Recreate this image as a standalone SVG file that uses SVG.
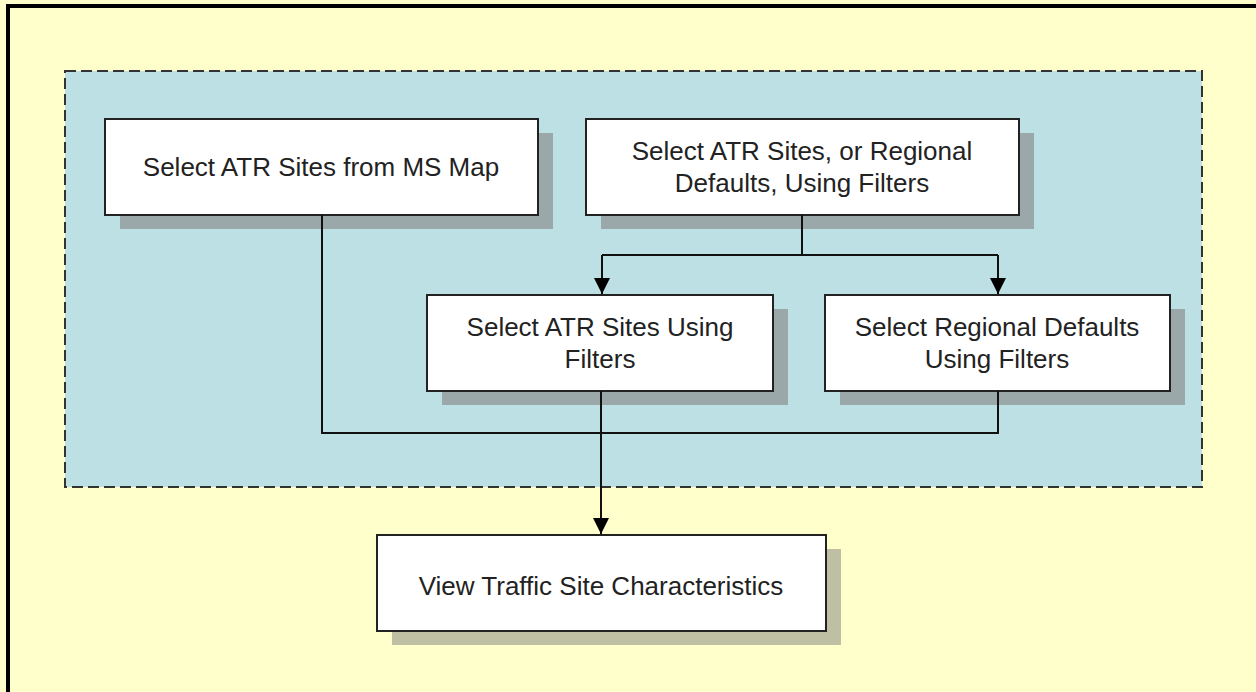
<svg xmlns="http://www.w3.org/2000/svg" width="1256" height="692" viewBox="0 0 1256 692">
<style>
.bg{fill:#ffffcc}
.frame{fill:none;stroke:#000;stroke-width:4}
.grp{fill:#bce0e3;stroke:#333;stroke-width:2;stroke-dasharray:11 5}
.box{fill:#fff;stroke:#222;stroke-width:2}
.sh-b{fill:#9ba8a9}
.sh-y{fill:#bfbfa4}
.t{font-family:"Liberation Sans",Arial,sans-serif;font-size:26px;fill:#222;text-anchor:middle}
.c{fill:none;stroke:#111;stroke-width:2}
</style>
<defs>
<marker id="arr" markerWidth="16" markerHeight="16" refX="16" refY="8" orient="auto" markerUnits="userSpaceOnUse">
<path d="M0,0 L16,8 L0,16 Z" fill="#000"/>
</marker>
</defs>
<rect class="bg" x="0" y="0" width="1256" height="692"/>
<path class="frame" d="M8,692 L8,6 L1256,6"/>
<rect class="grp" x="65" y="71" width="1137" height="416"/>
<g id="node-ms-map">
<rect class="sh-b" x="120" y="133" width="433" height="96"/>
<rect class="box" x="105" y="119" width="433" height="96"/>
<text class="t" x="321" y="176">Select ATR Sites from MS Map</text>
</g>
<g id="node-filters">
<rect class="sh-b" x="601" y="133" width="433" height="96"/>
<rect class="box" x="586" y="119" width="433" height="96"/>
<text class="t" x="802" y="160">Select ATR Sites, or Regional</text>
<text class="t" x="802" y="192">Defaults, Using Filters</text>
</g>
<g id="node-atr-filters">
<rect class="sh-b" x="442" y="309" width="346" height="96"/>
<rect class="box" x="427" y="295" width="346" height="96"/>
<text class="t" x="600" y="336">Select ATR Sites Using</text>
<text class="t" x="600" y="368">Filters</text>
</g>
<g id="node-regional">
<rect class="sh-b" x="840" y="309" width="345" height="96"/>
<rect class="box" x="825" y="295" width="345" height="96"/>
<text class="t" x="997" y="336">Select Regional Defaults</text>
<text class="t" x="997" y="368">Using Filters</text>
</g>
<g id="node-view">
<rect class="sh-y" x="392" y="549" width="449" height="96"/>
<rect class="box" x="377" y="535" width="449" height="96"/>
<text class="t" x="601" y="595">View Traffic Site Characteristics</text>
</g>
<g id="connectors">
<path class="c" d="M802,215 L802,255"/>
<path class="c" d="M602,255 L998,255"/>
<path class="c" d="M602,255 L602,294" marker-end="url(#arr)"/>
<path class="c" d="M998,255 L998,294" marker-end="url(#arr)"/>
<path class="c" d="M322,215 L322,433 L998,433 L998,391"/>
<path class="c" d="M601,391 L601,534" marker-end="url(#arr)"/>
</g>
</svg>
